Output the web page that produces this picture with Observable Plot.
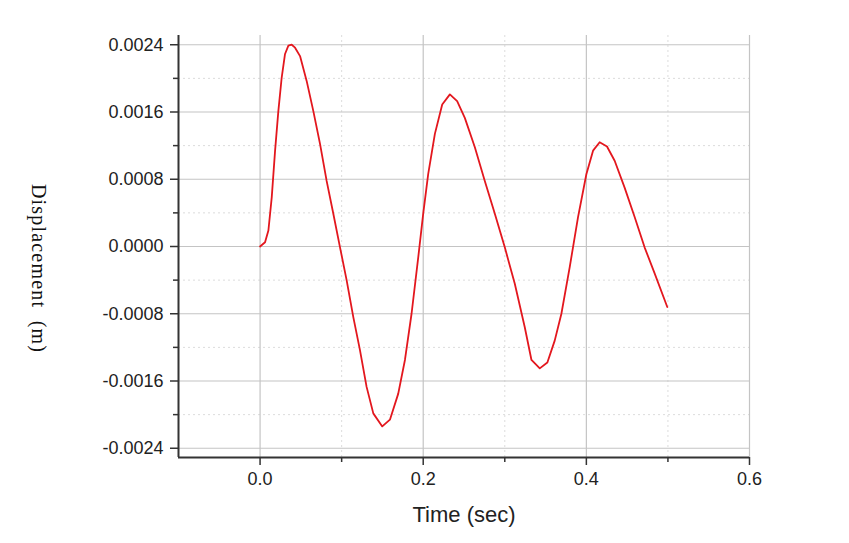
<!DOCTYPE html>
<html>
<head>
<meta charset="utf-8">
<script src="https://cdn.jsdelivr.net/npm/d3@7"></script>
<script src="https://cdn.jsdelivr.net/npm/@observablehq/plot@0.6"></script>
<style>
  html, body { margin: 0; padding: 0; background: #fff; }
  #chart svg { display: block; }
</style>
</head>
<body>
<div id="chart"></div>
<script>
// ---- data ----
const time = [0, 0.0061, 0.0102, 0.0143, 0.0184, 0.0224, 0.0265, 0.0306, 0.0347, 0.0388, 0.0429, 0.0490,
  0.0571, 0.0653, 0.0735, 0.0816, 0.0898, 0.0980, 0.1061, 0.1143, 0.1224, 0.1306, 0.1388, 0.1498,
  0.1592, 0.1694, 0.1776, 0.1857, 0.1939, 0.2000, 0.2061, 0.2143, 0.2233, 0.2327, 0.2416, 0.2510,
  0.2633, 0.2755, 0.2878, 0.3000, 0.3122, 0.3245, 0.3327, 0.3429, 0.3522, 0.3612, 0.3694, 0.3796,
  0.3898, 0.4000, 0.4082, 0.4163, 0.4253, 0.4347, 0.4469, 0.4592, 0.4714, 0.4837, 0.4992];
const displacement = [0, 0.00005, 0.00019, 0.000585, 0.00114, 0.00161, 0.00201, 0.00229, 0.00239, 0.00240, 0.002365, 0.002265,
  0.00197, 0.00161, 0.00122, 0.00078, 0.00039, -0.00001, -0.0004, -0.00084, -0.00123, -0.00167, -0.001985, -0.00214,
  -0.00206, -0.00175, -0.00135, -0.0008, -0.00013, 0.00039, 0.00086, 0.00134, 0.00169, 0.00181, 0.00173, 0.00153,
  0.00118, 0.00078, 0.00039, -0.00001, -0.00044, -0.00096, -0.00135, -0.00145, -0.00138, -0.00112, -0.0008, -0.000245,
  0.00035, 0.00086, 0.00114, 0.00124, 0.00119, 0.00102, 0.0007, 0.00035, -0.00001, -0.00032, -0.00072];

const xMajorTicks = [0.0, 0.2, 0.4, 0.6];
const xMinorTicks = [0.1, 0.3, 0.5];
const yMajorTicks = [-0.0024, -0.0016, -0.0008, 0.0, 0.0008, 0.0016, 0.0024];
const yMinorTicks = [-0.002, -0.0012, -0.0004, 0.0004, 0.0012, 0.002];
const xDomain = [-0.1, 0.6];
const yDomain = [-0.00251, 0.00251];
const xTitle = "Time (sec)";
const yTitle = "Displacement  (m)";

const points = time.map((t, i) => ({t, v: displacement[i]}));
const fmtY = d => d.toFixed(4);
const fmtX = d => d.toFixed(1);

const chart = Plot.plot({
  width: 849,
  height: 543,
  marginLeft: 178,
  marginRight: 100,
  marginTop: 35,
  marginBottom: 86,
  style: {background: "#fff", fontFamily: "'Liberation Sans', Arial, sans-serif"},
  x: {domain: xDomain, axis: null},
  y: {domain: yDomain, axis: null},
  marks: [
    Plot.gridX(xMinorTicks, {stroke: "#dcdcdc", strokeOpacity: 1, strokeDasharray: "2,3", strokeWidth: 1}),
    Plot.gridY(yMinorTicks, {stroke: "#dcdcdc", strokeOpacity: 1, strokeDasharray: "2,3", strokeWidth: 1}),
    Plot.gridX(xMajorTicks, {stroke: "#c4c4c4", strokeOpacity: 1, strokeWidth: 1.2}),
    Plot.gridY(yMajorTicks, {stroke: "#c4c4c4", strokeOpacity: 1, strokeWidth: 1.2}),
    Plot.line(points, {x: "t", y: "v", stroke: "#e3171e", strokeWidth: 1.8, curve: "linear"}),
    Plot.ruleX([xDomain[0]], {stroke: "#333", strokeWidth: 2}),
    Plot.ruleY([yDomain[0]], {stroke: "#333", strokeWidth: 2}),
    Plot.axisY(yMajorTicks, {tickSize: 8, tickPadding: 7, tickFormat: fmtY, fontSize: 18, stroke: "#333", strokeWidth: 1.5, color: "#222", label: null}),
    Plot.axisY(yMinorTicks, {tickSize: 5, tickFormat: () => "", stroke: "#333", strokeWidth: 1.5, label: null}),
    Plot.axisX(xMajorTicks, {tickSize: 8, tickPadding: 7, tickFormat: fmtX, fontSize: 18, stroke: "#333", strokeWidth: 1.5, color: "#222", label: null}),
    Plot.axisX(xMinorTicks, {tickSize: 5, tickFormat: () => "", stroke: "#333", strokeWidth: 1.5, label: null}),
    Plot.text([xTitle], {frameAnchor: "bottom", dy: 57, text: d => d, fontSize: 22, fill: "#222", lineAnchor: "middle"}),
    Plot.text([yTitle], {frameAnchor: "left", dx: -140, dy: 22, rotate: 90, text: d => d, fontSize: 20, fill: "#111",
      fontFamily: "'Liberation Serif', 'Times New Roman', serif", lineAnchor: "middle", textAnchor: "middle"})
  ]
});
chart.querySelectorAll("text").forEach(t => {
  if (t.textContent === yTitle) t.setAttribute("letter-spacing", "1.2");
});
document.getElementById("chart").appendChild(chart);
</script>
</body>
</html>
